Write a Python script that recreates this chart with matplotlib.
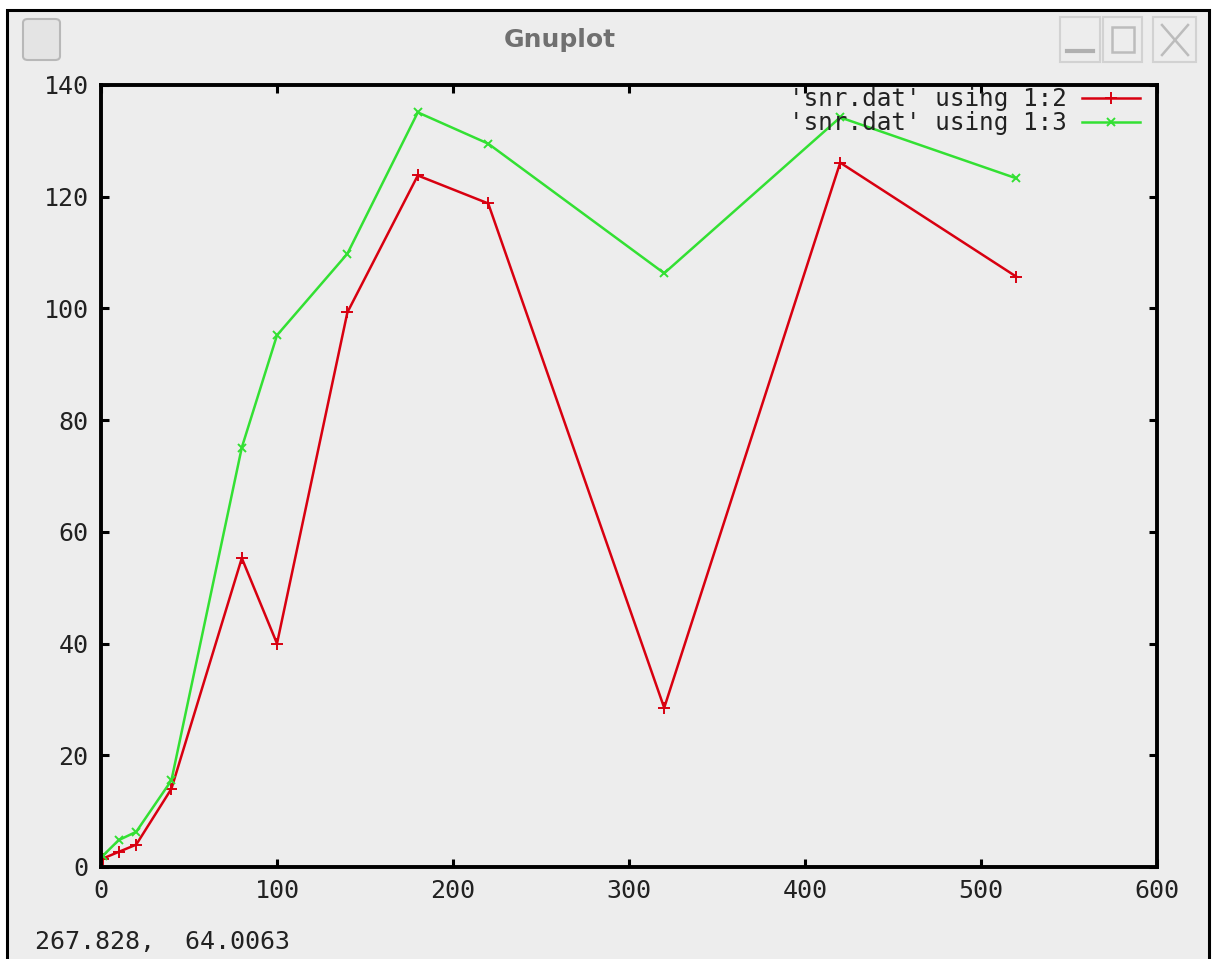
import numpy as np
import matplotlib.pyplot as plt
from matplotlib.patches import Rectangle, FancyBboxPatch
from matplotlib.lines import Line2D

# snr.dat columns
snr_x = [1, 10, 20, 40, 80, 100, 140, 180, 220, 320, 420, 520]
snr_col2 = [1.5, 2.7, 4, 14, 55.3, 40, 99.3, 123.8, 118.8, 28.5, 126.1, 105.7]
snr_col3 = [2, 4.8, 6.3, 15.5, 75.1, 95.2, 109.8, 135.1, 129.5, 106.3, 134.2, 123.3]

xticks = [0, 100, 200, 300, 400, 500, 600]
yticks = [0, 20, 40, 60, 80, 100, 120, 140]

W, H = 1216, 959
BG = '#ededed'
MONO = 'DejaVu Sans Mono'

fig = plt.figure(figsize=(W / 100, H / 100), dpi=100)
fig.patch.set_facecolor('white')

def fx(x):
    return x / W

def fy(y):
    return 1 - y / H

# window frame (kept behind the axes)
fig.add_artist(Rectangle((fx(7), fy(962)), fx(1209) - fx(7), fy(10) - fy(962),
                         transform=fig.transFigure, facecolor=BG,
                         edgecolor='black', lw=2.2, zorder=-5))

# title bar
fig.text(fx(560), fy(40), 'Gnuplot', ha='center', va='center',
         fontsize=18, fontweight='bold', color='#707070', family='DejaVu Sans')

# window icon
fig.add_artist(FancyBboxPatch((fx(23), fy(60)), fx(60) - fx(23), fy(19) - fy(60),
                              boxstyle='round,pad=0,rounding_size=0.004',
                              transform=fig.transFigure, facecolor='#e4e4e4',
                              edgecolor='#b8b8b8', lw=1.5))

# window buttons
for x0, x1 in [(1060, 1100), (1103, 1142), (1153, 1196)]:
    fig.add_artist(Rectangle((fx(x0), fy(62)), fx(x1) - fx(x0), fy(17) - fy(62),
                             transform=fig.transFigure, facecolor='none',
                             edgecolor='#d2d2d2', lw=1.5))
fig.add_artist(Line2D([fx(1067), fx(1093)], [fy(51), fy(51)],
                      transform=fig.transFigure, color='#b0b0b0', lw=3))
fig.add_artist(Rectangle((fx(1112), fy(52)), fx(1134) - fx(1112), fy(27) - fy(52),
                         transform=fig.transFigure, facecolor='none',
                         edgecolor='#bcbcbc', lw=1.8))
fig.add_artist(Line2D([fx(1162), fx(1188)], [fy(25), fy(55)],
                      transform=fig.transFigure, color='#bcbcbc', lw=1.8))
fig.add_artist(Line2D([fx(1162), fx(1188)], [fy(55), fy(25)],
                      transform=fig.transFigure, color='#bcbcbc', lw=1.8))

# plot area
ax = fig.add_axes([fx(101), fy(867), fx(1157) - fx(101), fy(85) - fy(867)])
ax.set_facecolor(BG)

ax.plot(snr_x, snr_col2, color='#d80010', lw=1.8, marker='+', ms=8, mew=1.4,
        label="'snr.dat' using 1:2")
ax.plot(snr_x, snr_col3, color='#33e033', lw=1.8, marker='x', ms=6, mew=1.4,
        label="'snr.dat' using 1:3")

ax.set_xlim(0, 600)
ax.set_ylim(0, 140)
ax.set_xticks(xticks)
ax.set_yticks(yticks)
ax.tick_params(direction='in', length=6, width=2.2, top=True, right=True,
               labelsize=18, colors='black', labelcolor='#222222')
ax.tick_params(axis='y', pad=9)
ax.tick_params(axis='x', pad=9)
for lbl in ax.get_xticklabels() + ax.get_yticklabels():
    lbl.set_family(MONO)
for s in ax.spines.values():
    s.set_linewidth(2.8)
    s.set_color('black')

leg = ax.legend(loc='upper right', bbox_to_anchor=(0.984, 0.997),
                markerfirst=False, frameon=False, handlelength=2.4,
                handletextpad=0.6, labelspacing=0.0, borderaxespad=0,
                borderpad=0, prop={'family': MONO, 'size': 17.5})
for t in leg.get_texts():
    t.set_color('#222222')

# mouse position readout
fig.text(fx(35), fy(942), '267.828,  64.0063', ha='left', va='center',
         fontsize=18, family=MONO, color='#222222')

fig.savefig('out.png', dpi=100, facecolor=fig.get_facecolor())
